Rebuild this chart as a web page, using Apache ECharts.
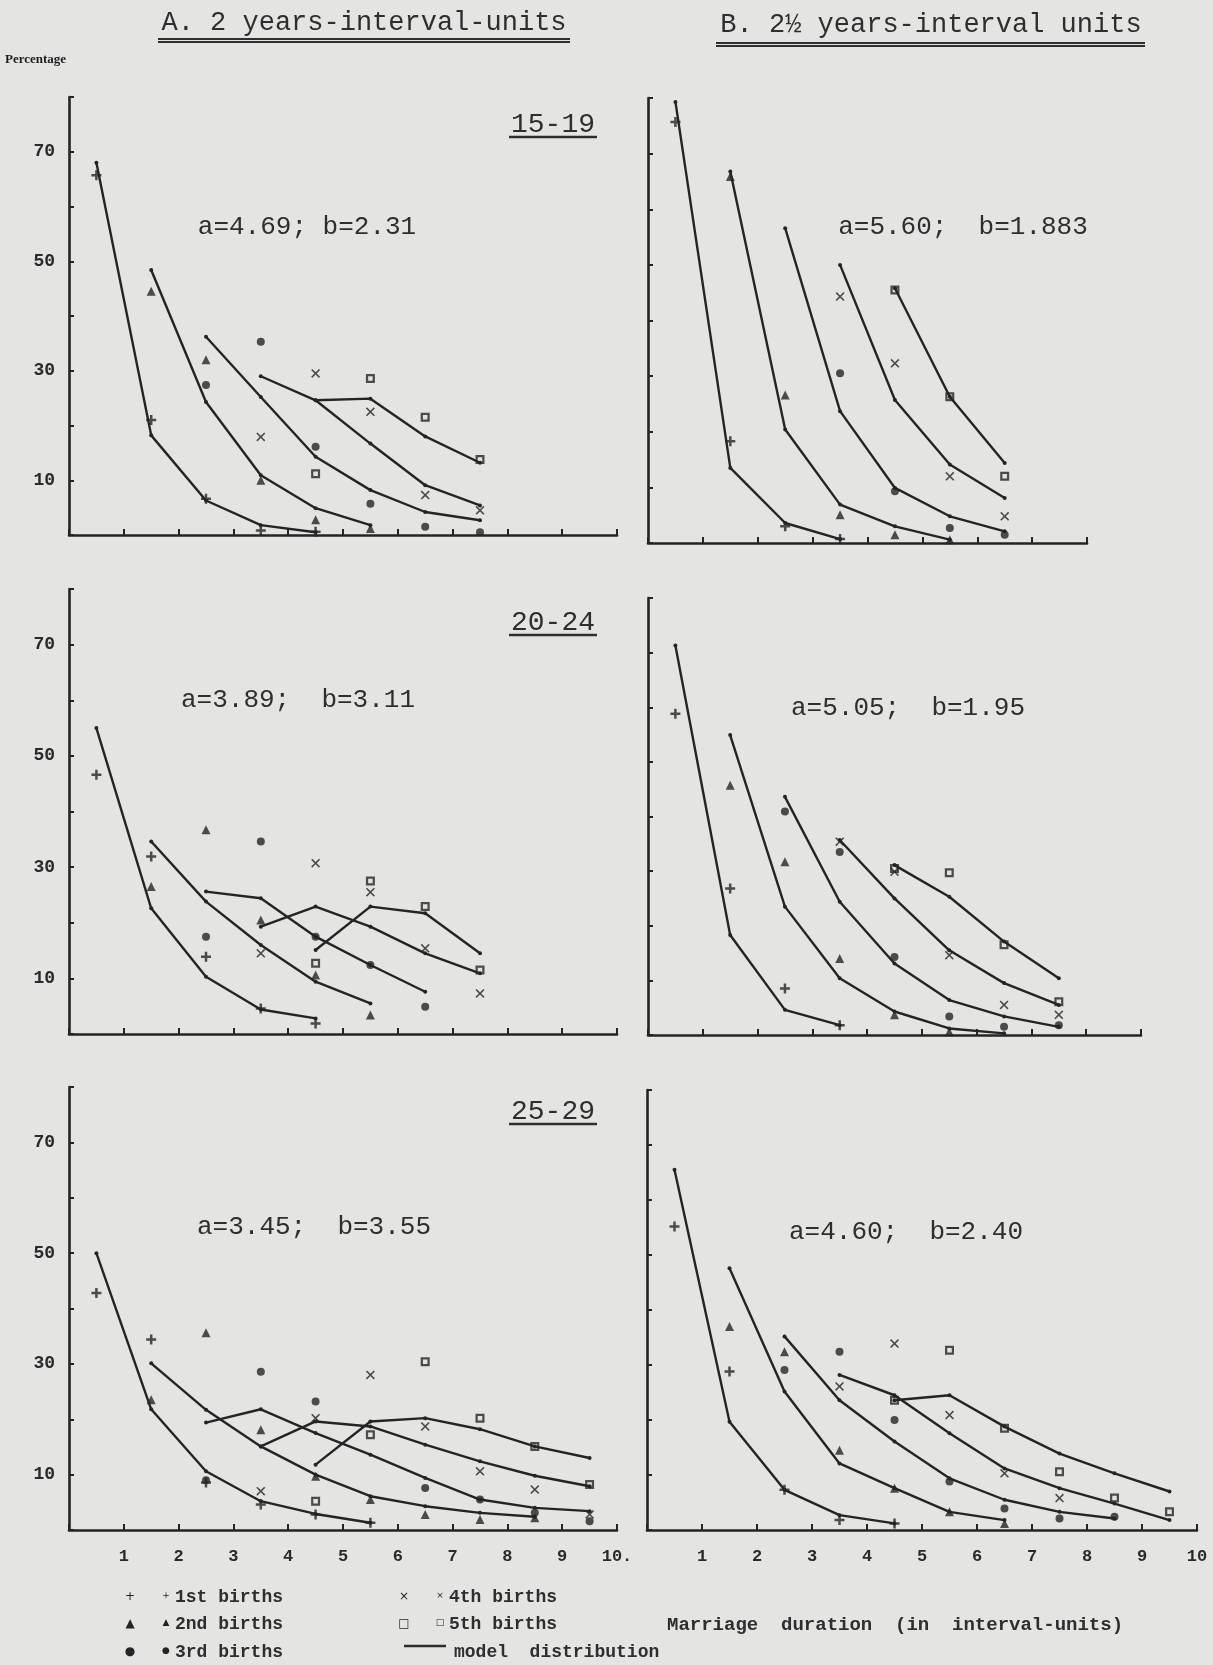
<!DOCTYPE html>
<html>
<head>
<meta charset="utf-8">
<script src="https://cdn.jsdelivr.net/npm/echarts@6/dist/echarts.min.js"></script>
<style>
  html, body { margin: 0; padding: 0; background: #e4e4e2; }
  #chart { width: 1213px; height: 1665px; }
</style>
</head>
<body>
<div id="chart"></div>
<script>
const _ = null

// interval mid-points (x = 0.5 ... 9.5)
const xMid = [0.5, 1.5, 2.5, 3.5, 4.5, 5.5, 6.5, 7.5, 8.5, 9.5]
const yTickLabels = [10, 30, 50, 70]
const xTickLabelsA = ['1', '2', '3', '4', '5', '6', '7', '8', '9', '10.']
const xTickLabelsB = ['1', '2', '3', '4', '5', '6', '7', '8', '9', '10']
const birthOrders = ['1st births', '2nd births', '3rd births', '4th births', '5th births']
const ageGroups = ['15-19', '20-24', '25-29']

// A. 2 years-interval-units, age 15-19
const A1519_model = [
  [68.0, 18.2, 6.3, 1.8, 0.5],
  [_, 48.4, 24.3, 10.9, 4.9, 1.8],
  [_, _, 36.2, 25.2, 14.3, 8.2, 4.2, 2.7],
  [_, _, _, 29.0, 24.6, 16.7, 9.1, 5.4],
  [_, _, _, _, 24.6, 24.9, 18.0, 13.2]
]
const A1519_obs = [
  [65.7, 21.0, 6.6, 0.8, 0.6],
  [_, 44.5, 32.0, 10.0, 2.8, 1.2],
  [_, _, 27.4, 35.3, 16.1, 5.7, 1.5, 0.5],
  [_, _, _, 17.9, 29.5, 22.5, 7.3, 4.5],
  [_, _, _, _, 11.2, 28.6, 21.5, 13.8]
]

// B. 2 1/2 years-interval units, age 15-19
const B1519_model = [
  [79.3, 13.5, 3.6, 0.7],
  [_, 66.8, 20.4, 6.9, 3.0, 0.6],
  [_, _, 56.6, 23.7, 9.9, 4.8, 2.1],
  [_, _, _, 50.0, 25.7, 14.1, 8.1],
  [_, _, _, _, 45.8, 26.3, 14.4]
]
const B1519_obs = [
  [75.7, 18.3, 3.0, 0.7],
  [_, 65.9, 26.6, 5.1, 1.5, 0.6],
  [_, _, _, 30.5, 9.3, 2.7, 1.5],
  [_, _, _, 44.3, 32.3, 12.0, 4.8],
  [_, _, _, _, 45.5, 26.3, 12.0]
]

// A, age 20-24
const A2024_model = [
  [55.0, 22.6, 10.3, 4.4, 2.8],
  [_, 34.6, 23.8, 16.0, 9.4, 5.5],
  [_, _, 25.6, 24.4, 17.5, 12.4, 7.6],
  [_, _, _, 19.3, 22.9, 19.3, 14.5, 10.9],
  [_, _, _, _, 15.1, 22.9, 21.7, 14.5]
]
const A2024_obs = [
  [46.6, 31.9, 13.9, 4.6, 1.9],
  [_, 26.5, 36.7, 20.5, 10.6, 3.4],
  [_, _, 17.5, 34.6, 17.5, 12.4, 4.9],
  [_, _, _, 14.5, 30.7, 25.5, 15.4, 7.3],
  [_, _, _, _, 12.7, 27.5, 22.9, 11.5]
]

// B, age 20-24
const B2024_model = [
  [71.3, 18.3, 4.6, 1.8],
  [_, 54.9, 23.5, 10.4, 4.3, 1.2, 0.3],
  [_, _, 43.6, 24.4, 13.1, 6.4, 3.4, 1.5],
  [_, _, _, 35.7, 25.0, 15.5, 9.5, 5.5],
  [_, _, _, _, 31.1, 25.3, 17.1, 10.4]
]
const B2024_obs = [
  [58.8, 26.8, 8.5, 1.8],
  [_, 45.7, 31.7, 14.0, 3.7, 0.6],
  [_, _, 40.9, 33.5, 14.3, 3.4, 1.5, 1.8],
  [_, _, _, 35.4, 29.9, 14.6, 5.5, 3.7],
  [_, _, _, _, 30.5, 29.7, 16.5, 6.1]
]

// A, age 25-29
const A2529_model = [
  [50.0, 21.8, 10.6, 5.2, 2.9, 1.3],
  [_, 30.1, 21.7, 15.1, 10.0, 6.1, 4.3, 3.1, 2.4],
  [_, _, 19.4, 21.8, 17.5, 13.6, 9.4, 5.5, 4.0, 3.4],
  [_, _, _, 15.1, 19.6, 18.7, 15.4, 12.4, 9.8, 7.9],
  [_, _, _, _, 11.8, 19.6, 20.2, 18.2, 15.1, 13.0]
]
const A2529_obs = [
  [42.8, 34.4, 8.6, 4.6, 2.8, 1.3],
  [_, 23.5, 35.6, 18.1, 9.7, 5.5, 2.8, 1.9, 2.2],
  [_, _, 9.0, 28.6, 23.2, _, 7.6, 5.5, 3.1, 1.6],
  [_, _, _, 7.0, 20.2, 28.0, 18.7, 10.6, 7.3, 2.8],
  [_, _, _, _, 5.2, 17.2, 30.4, 20.2, 15.1, 8.2]
]

// B, age 25-29
const B2529_model = [
  [65.5, 19.7, 7.3, 2.7, 1.2],
  [_, 47.6, 25.2, 12.1, 7.6, 3.3, 1.8],
  [_, _, 35.2, 23.6, 16.1, 9.4, 5.5, 3.3, 2.1],
  [_, _, _, 28.2, 24.5, 17.6, 11.2, 7.6, 4.8, 1.8],
  [_, _, _, _, 23.6, 24.5, 18.8, 13.9, 10.3, 7.0]
]
const B2529_obs = [
  [55.2, 28.8, 7.3, 1.8, 1.2],
  [_, 37.0, 32.4, 14.5, 7.6, 3.3, 1.2],
  [_, _, 29.1, 32.4, 20.0, 8.8, 3.9, 2.1, 2.4],
  [_, _, _, 26.1, 33.9, 20.9, 10.3, 5.8],
  [_, _, _, _, 23.6, 32.7, 18.5, 10.6, 5.8, 3.3]
]

const params = [
  'a=4.69; b=2.31', 'a=5.60;  b=1.883',
  'a=3.89;  b=3.11', 'a=5.05;  b=1.95',
  'a=3.45;  b=3.55', 'a=4.60;  b=2.40'
]

const ink = '#242424'
const typeFont = '"Liberation Mono", "DejaVu Sans Mono", monospace'

// observed-point symbols, one per birth order
const symbols = [
  'path://M3,0H5V3H8V5H5V8H3V5H0V3H3Z',
  'triangle',
  'circle',
  'path://M1,0L4,3L7,0L8,1L5,4L8,7L7,8L4,5L1,8L0,7L3,4L0,1Z',
  'path://M0,0H8V8H0Z M2,2V6H6V2Z'
]
const symbolSizes = [10, 9, 8, 9, 9]

// panel layout: [left, top, width, height], x max
const panels = [
  { rect: [69, 97, 548, 438], xMax: 10, model: A1519_model, obs: A1519_obs, yLab: true, xLab: null },
  { rect: [648, 98, 439, 445], xMax: 8, model: B1519_model, obs: B1519_obs, yLab: false, xLab: null },
  { rect: [69, 589, 548, 445], xMax: 10, model: A2024_model, obs: A2024_obs, yLab: true, xLab: null },
  { rect: [648, 598, 493, 437], xMax: 9, model: B2024_model, obs: B2024_obs, yLab: false, xLab: null },
  { rect: [69, 1087, 548, 443], xMax: 10, model: A2529_model, obs: A2529_obs, yLab: true, xLab: xTickLabelsA },
  { rect: [647, 1090, 550, 440], xMax: 10, model: B2529_model, obs: B2529_obs, yLab: false, xLab: xTickLabelsB }
]
const paramPos = [[307, 227], [963, 227], [298, 700], [908, 708], [314, 1227], [906, 1232]]
const agePos = [[553, 125], [553, 623], [553, 1112]]

const toPairs = row => row.map((v, i) => (v == null ? null : [xMid[i], v])).filter(Boolean)

const grid = [], xAxis = [], yAxis = [], series = []
panels.forEach((p, k) => {
  grid.push({ left: p.rect[0], top: p.rect[1], width: p.rect[2], height: p.rect[3] })
  xAxis.push({
    type: 'value', gridIndex: k, min: 0, max: p.xMax, interval: 1,
    axisLine: { lineStyle: { color: ink, width: 2.6 } },
    axisTick: { inside: true, length: 6, lineStyle: { color: ink, width: 2 } },
    splitLine: { show: false },
    axisLabel: p.xLab ? {
      show: true, margin: 18, color: '#2a2a2a', fontSize: 17, fontWeight: 'bold', fontFamily: typeFont,
      formatter: v => (v >= 1 ? p.xLab[v - 1] : '')
    } : { show: false }
  })
  yAxis.push({
    type: 'value', gridIndex: k, min: 0, max: 80, interval: 10,
    axisLine: { show: true, lineStyle: { color: ink, width: 2.6 } },
    axisTick: { show: true, inside: true, length: 5, lineStyle: { color: ink, width: 2 } },
    splitLine: { show: false },
    axisLabel: p.yLab ? {
      show: true, margin: 14, color: '#2a2a2a', fontSize: 18, fontWeight: 'bold', fontFamily: typeFont,
      formatter: v => (yTickLabels.includes(v) ? String(v) : '')
    } : { show: false }
  })
  p.obs.forEach((row, j) => {
    series.push({
      name: birthOrders[j], type: 'scatter', xAxisIndex: k, yAxisIndex: k,
      data: toPairs(row), symbol: symbols[j], symbolSize: symbolSizes[j],
      itemStyle: { color: ink }, z: 2
    })
  })
  p.model.forEach(row => {
    series.push({
      name: 'model distribution', type: 'line', xAxisIndex: k, yAxisIndex: k,
      data: toPairs(row), symbol: 'circle', symbolSize: 4, showSymbol: true,
      lineStyle: { color: ink, width: 2.4 }, itemStyle: { color: ink }, z: 3
    })
  })
})

const graphic = []
const txt = (x, y, text, style) => graphic.push({
  type: 'text', x, y,
  style: Object.assign({ text, fill: '#2e2e2e', font: '27px ' + typeFont, textAlign: 'center', textVerticalAlign: 'middle' }, style)
})
const hline = (x1, x2, y, w) => graphic.push({
  type: 'line', shape: { x1, y1: y, x2, y2: y }, style: { stroke: '#2e2e2e', lineWidth: w || 2 }
})

// column titles
txt(364, 23, 'A. 2 years-interval-units')
hline(158, 570, 39, 2); hline(158, 570, 42, 2)
txt(931, 25, 'B. 2½ years-interval units')
hline(716, 1145, 43, 2); hline(716, 1145, 46, 2)
txt(5, 60, 'Percentage', { font: 'bold 13px "Liberation Serif", serif', textAlign: 'left', fill: '#1e1e1e' })

ageGroups.forEach((g, i) => {
  txt(agePos[i][0], agePos[i][1], g, { font: '28px ' + typeFont })
  hline(509, 597, agePos[i][1] + 12, 2.5)
})
params.forEach((s, i) => txt(paramPos[i][0], paramPos[i][1], s, { font: '26px ' + typeFont }))

// legend
const legFont = 'bold 18px ' + typeFont
const legGlyphs = ['+', '▲', '●', '×', '□']
const legPos = [[130, 1597], [130, 1624], [130, 1652], [404, 1597], [404, 1624]]
birthOrders.forEach((b, i) => {
  txt(legPos[i][0], legPos[i][1], legGlyphs[i], { font: '12px "DejaVu Sans"', fill: ink })
  txt(legPos[i][0] + 36, legPos[i][1] - 1, legGlyphs[i], { font: '9px "DejaVu Sans"', fill: ink })
  txt(legPos[i][0] + 45, legPos[i][1], b, { font: legFont, textAlign: 'left' })
})
hline(404, 446, 1646, 2.5)
txt(454, 1652, 'model  distribution', { font: legFont, textAlign: 'left' })
txt(667, 1625, 'Marriage  duration  (in  interval-units)', { font: 'bold 19px ' + typeFont, textAlign: 'left' })

const chart = echarts.init(document.getElementById('chart'))
chart.setOption({
  backgroundColor: '#e4e4e2',
  animation: false,
  grid, xAxis, yAxis, series, graphic
})
</script>
</body>
</html>
